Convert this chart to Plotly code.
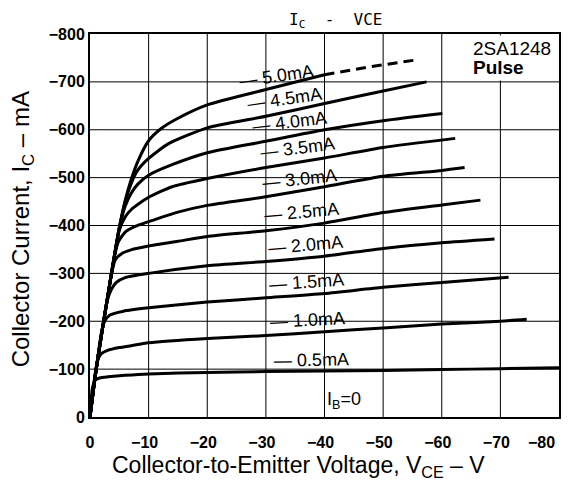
import plotly.graph_objects as go

# ---- data (VCE in V, IC in mA, PNP so negative) ----
ib_labels = ["0.5", "1.0", "1.5", "2.0", "2.5", "3.0", "3.5", "4.0", "4.5", "5.0"]

vce_05 = [0, -0.2, -0.4, -0.7, -1.0, -1.5, -2.5, -4, -6, -10, -20, -30, -40, -50, -60, -70, -80]
ic_05 = [0, -35, -60, -73, -78, -81, -83, -85, -87, -90, -93, -95, -96, -97, -99, -101, -103]

vce_10 = [0, -0.3, -0.6, -1.0, -1.4, -2.0, -3.0, -5, -7, -10, -20, -30, -40, -50, -60, -70, -74.5]
ic_10 = [0, -35, -65, -100, -122, -133, -139, -145, -149, -155, -164, -170, -178, -186, -194, -200, -204]

vce_15 = [0, -0.5, -1.0, -1.5, -2.0, -2.5, -3.4, -5.7, -10, -20, -30, -40, -50, -60, -71.4]
ic_15 = [0, -50, -95, -140, -180, -200, -213, -221, -228, -240, -249, -258, -271, -281, -292]

vce_20 = [0, -0.5, -1.0, -2.0, -2.8, -3.4, -4.5, -6, -10, -20, -30, -40, -50, -60, -69]
ic_20 = [0, -50, -95, -175, -235, -260, -281, -291, -300, -316, -325, -336, -352, -364, -372]

vce_25 = [0, -0.5, -1, -2, -3, -3.7, -4.3, -5.5, -7, -10, -15, -20, -30, -40, -50, -60, -66.6]
ic_25 = [0, -50, -95, -175, -250, -300, -328, -342, -349, -357, -367, -377, -389, -405, -427, -443, -453]

vce_30 = [0, -1, -2, -3, -4, -4.8, -6, -7.7, -10, -15, -20, -30, -40, -50, -60, -63.9]
ic_30 = [0, -95, -175, -250, -325, -365, -386, -398, -408, -428, -442, -460, -481, -503, -515, -521]

vce_35 = [0, -1, -2, -3, -4, -5, -6, -7.1, -8.5, -10, -14, -20, -30, -40, -50, -62.3]
ic_35 = [0, -95, -175, -250, -325, -390, -418, -434, -447, -459, -481, -498, -521, -541, -563, -582]

vce_40 = [0, -1, -2, -3, -4, -5, -6, -7, -8.2, -10, -14, -20, -30, -40, -50, -60.1]
ic_40 = [0, -95, -175, -250, -325, -395, -440, -467, -487, -505, -527, -552, -576, -600, -619, -634]

vce_45 = [0, -1, -2, -3, -4, -5, -6, -7, -8, -10, -13.4, -20, -30, -40, -50, -57.4]
ic_45 = [0, -95, -175, -250, -325, -395, -450, -487, -513, -540, -571, -604, -628, -655, -681, -700]

vce_50 = [0, -1, -2, -3, -4, -5, -6, -7, -8.2, -10, -12.2, -15, -20, -30, -40]
ic_50 = [0, -95, -175, -250, -325, -395, -452, -495, -535, -577, -603, -624, -652, -684, -715]

vce_50_dash = [-40, -48, -55.2]
ic_50_dash = [-715, -732, -745]

x_ticks = [0, -10, -20, -30, -40, -50, -60, -70, -80]
x_ticktext = ["0", "−10", "−20", "−30", "−40", "−50", "−60", "−70", "−80"]
y_ticks = [0, -100, -200, -300, -400, -500, -600, -700, -800]
y_ticktext = ["0", "−100", "−200", "−300", "−400", "−500", "−600", "−700", "−800"]

curves = [
    (vce_05, ic_05), (vce_10, ic_10), (vce_15, ic_15), (vce_20, ic_20), (vce_25, ic_25),
    (vce_30, ic_30), (vce_35, ic_35), (vce_40, ic_40), (vce_45, ic_45), (vce_50, ic_50),
]

fig = go.Figure()

# grid lines at the tick values (drawn beneath the curves)
for xv in x_ticks[1:-1]:
    fig.add_vline(x=xv, line=dict(color="black", width=1), layer="below")
for yv in y_ticks[1:-1]:
    fig.add_hline(y=yv, line=dict(color="black", width=1), layer="below")

for (vx, iy), lab in zip(curves, ib_labels):
    fig.add_trace(go.Scatter(x=vx, y=iy, mode="lines", name=lab,
                             line=dict(color="black", width=3, shape="spline", smoothing=0.6),
                             showlegend=False, hoverinfo="skip"))
fig.add_trace(go.Scatter(x=vce_50_dash, y=ic_50_dash, mode="lines",
                         line=dict(color="black", width=3, dash="10px,6px"),
                         showlegend=False, hoverinfo="skip"))

SANS = "Liberation Sans, Arial, sans-serif"
LBL = dict(family=SANS, size=18, color="black")

# curve labels (position, angle)
label_pos = [(-37.7, -119, -1), (-37.1, -202, -3), (-37.0, -282, -4), (-36.7, -359, -5),
             (-36.1, -429, -5), (-35.8, -498, -6), (-35.4, -561, -7), (-34.1, -617, -7),
             (-33.1, -665, -8), (-31.8, -712, -8)]
for lab, (ax_, ay_, ang) in zip(ib_labels, label_pos):
    fig.add_annotation(x=ax_, y=ay_, xref="x", yref="y", text="— " + lab + "mA",
                       showarrow=False, textangle=ang, font=LBL,
                       xanchor="center", yanchor="middle")

fig.add_annotation(x=-43.3, y=-35, xref="x", yref="y", text="I<sub>B</sub>=0",
                   showarrow=False, font=LBL, xanchor="center", yanchor="middle")

# white box hiding the grid behind the type label
fig.add_annotation(x=-79.75, y=-798.5, xref="x", yref="y", text=" ", showarrow=False,
                   xanchor="right", yanchor="top", width=108, height=44,
                   bgcolor="white", borderpad=0)

fig.add_annotation(x=0.8124, y=0.9634, xref="paper", yref="paper", text="2SA1248",
                   showarrow=False, xanchor="left", yanchor="middle",
                   font=dict(family=SANS, size=19, color="black"))
fig.add_annotation(x=0.8124, y=0.9138, xref="paper", yref="paper", text="<b>Pulse</b>",
                   showarrow=False, xanchor="left", yanchor="middle",
                   font=dict(family=SANS, size=19, color="black"))

# title
fig.add_annotation(x=0.5224, y=1.036, xref="paper", yref="paper",
                   text="I<sub>C</sub>  -  VCE", showarrow=False,
                   xanchor="center", yanchor="middle",
                   font=dict(family="DejaVu Sans Mono, monospace", size=16, color="black"))

# axis titles
fig.add_annotation(x=-0.145, y=0.49, xref="paper", yref="paper",
                   text="Collector Current, I<sub>C</sub> – mA", textangle=-90,
                   showarrow=False, xanchor="center", yanchor="middle",
                   font=dict(family=SANS, size=24, color="black"))
fig.add_annotation(x=0.4446, y=-0.1305, xref="paper", yref="paper",
                   text="Collector-to-Emitter Voltage, V<sub>CE</sub> – V",
                   showarrow=False, xanchor="center", yanchor="middle",
                   font=dict(family=SANS, size=23, color="black"))

tickf = dict(family=SANS, size=16, color="black", weight="bold")

# x tick labels: pad right so the digits sit centred on the grid line;
# the last one (at the frame edge) is drawn right-aligned inside the figure instead
x_ticktext_padded = [("" if t == x_ticktext[-1] else (t + "\u2002" if t != "0" else t))
                     for t in x_ticktext]
fig.add_annotation(x=0.9957, y=-0.0653, xref="paper", yref="paper", text=x_ticktext[-1],
                   showarrow=False, xanchor="right", yanchor="middle", font=tickf)

fig.update_xaxes(range=[0, -80], tickvals=x_ticks, ticktext=x_ticktext_padded, showgrid=False,
                 showline=True, linecolor="black", automargin=False,
                 linewidth=2, mirror=True, zeroline=False, ticks="", tickfont=tickf,
                 ticklabelstandoff=10, ticklabeloverflow="allow")
fig.update_yaxes(range=[0, -800], tickvals=y_ticks, ticktext=y_ticktext, showgrid=False,
                 showline=True, linecolor="black", automargin=False,
                 linewidth=2, mirror=True, zeroline=False, ticks="", tickfont=tickf)

# page body has an 8px margin, so the figure is sized/offset to compensate
fig.update_layout(width=561, height=472, margin=dict(l=82, r=10, t=26, b=63, autoexpand=False),
                  paper_bgcolor="white", plot_bgcolor="white", showlegend=False)

fig.write_html("out.html")
